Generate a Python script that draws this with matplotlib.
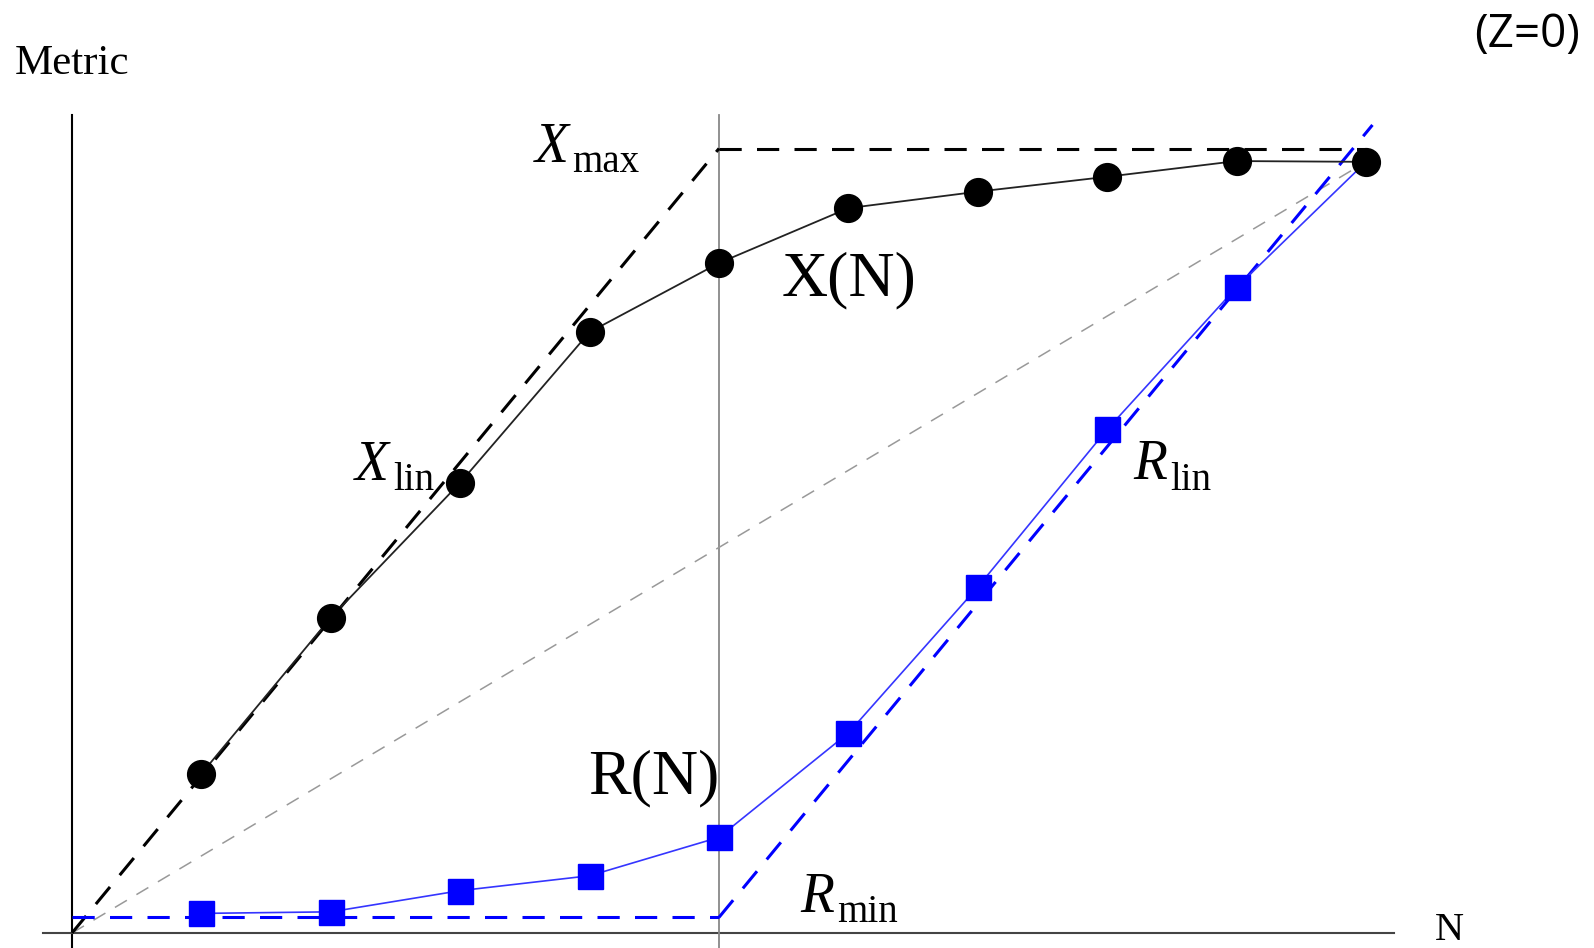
import numpy as np
import matplotlib
matplotlib.use("Agg")
import matplotlib.pyplot as plt

plt.rcParams['lines.scale_dashes'] = False

# population sizes and measured throughput / response time
N = np.arange(1, 11)
X = [0.203, 0.402, 0.574, 0.766, 0.854, 0.924, 0.945, 0.964, 0.984, 0.983]
R = [0.025, 0.027, 0.054, 0.073, 0.122, 0.255, 0.441, 0.642, 0.823, 0.983]

# asymptotic bounds
n_star = 5
x_max = 1.0
x_slope = 0.2
r_min = 0.02
r_slope = 0.2
n_end = 10.05

serif = 'Liberation Serif'

fig = plt.figure(figsize=(15.94, 9.48), dpi=100)
ax = fig.add_axes([0, 0, 1, 1])
ax.set_xlim(-0.5564, 11.762)
ax.set_ylim(-0.0191, 1.1893)
ax.axis('off')

# axes drawn by hand, crossing at the origin
ax.plot([0, 0], [-0.03, 1.043], color='black', lw=1.5, zorder=1)
ax.plot([-0.224, 10.22], [0, 0], color='#444444', lw=1.5, zorder=1)
ax.plot([n_star, n_star], [-0.03, 1.043], color='#888888', lw=1.3, zorder=1)

# diagonal from origin to last measured point
ax.plot([0, N[-1]], [0, X[-1]], color='#999999', lw=1.1, dashes=(10, 8), zorder=2)

# throughput bounds
ax.plot([0, n_star], [0, x_slope * n_star], color='black', lw=2.2, dashes=(16, 11), zorder=3)
ax.plot([n_star, N[-1]], [x_max, x_max], color='black', lw=2.2, dashes=(16, 11), zorder=3)

# response-time bounds
ax.plot([0, n_star], [r_min, r_min], color='#0000ff', lw=2.2, dashes=(16, 11), zorder=3)
ax.plot([n_star, n_end], [r_min, r_min + r_slope * (n_end - n_star)],
        color='#0000ff', lw=2.2, dashes=(16, 11), zorder=3)

# measured curves (last response-time point sits under the last throughput point)
ax.plot(N, R, color='#3535ff', lw=1.2, zorder=4)
ax.plot(N, R, 's', color='#0000ff', ms=18, markevery=slice(0, len(N) - 1), zorder=5)
ax.plot(N, X, color='#222222', lw=1.3, zorder=4)
ax.plot(N, X, 'o', color='black', ms=20, zorder=6)

# curve labels
ax.text(3.578, 0.983, 'X', family=serif, style='italic', fontsize=40, va='baseline')
ax.text(3.864, 0.970, 'max', family=serif, fontsize=28, va='baseline')
ax.text(5.487, 0.813, 'X(N)', family=serif, fontsize=46, va='baseline')
ax.text(2.187, 0.577, 'X', family=serif, style='italic', fontsize=40, va='baseline')
ax.text(2.481, 0.565, 'lin', family=serif, fontsize=28, va='baseline')
ax.text(8.199, 0.579, 'R', family=serif, style='italic', fontsize=40, va='baseline')
ax.text(8.485, 0.565, 'lin', family=serif, fontsize=28, va='baseline')
ax.text(3.988, 0.178, 'R(N)', family=serif, fontsize=46, va='baseline')
ax.text(5.626, 0.0268, 'R', family=serif, style='italic', fontsize=40, va='baseline')
ax.text(5.912, 0.014, 'min', family=serif, fontsize=28, va='baseline')

# axis titles and annotation
fig.text(15 / 1594, 1 - 74 / 948, 'Metric', family=serif, fontsize=31, va='baseline')
fig.text(1435 / 1594, 1 - 940 / 948, 'N', family=serif, fontsize=29, va='baseline')
fig.text(1580 / 1594, 1 - 47 / 948, '(Z=0)', family=['Open Sans', 'DejaVu Sans'],
         fontsize=33, ha='right', va='baseline')

fig.savefig('out.png', dpi=100)
